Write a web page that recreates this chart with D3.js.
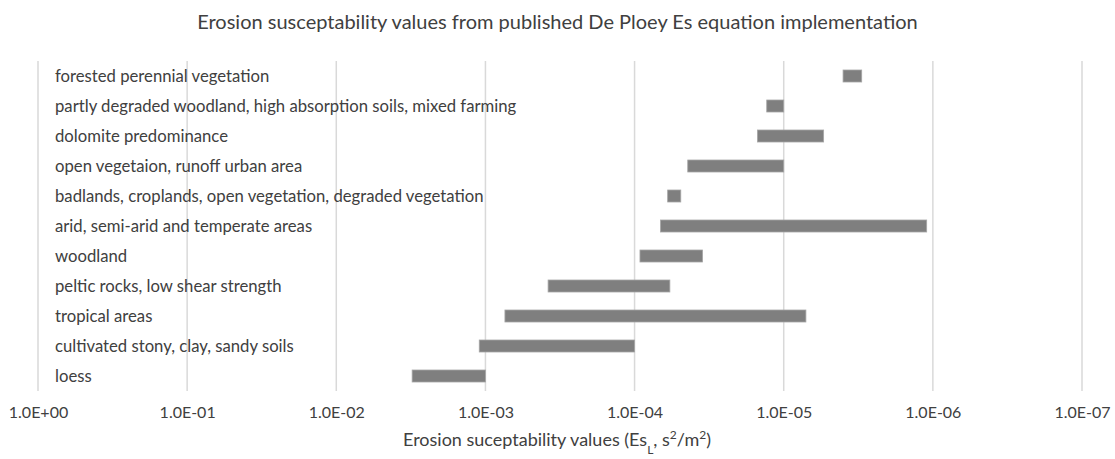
<!DOCTYPE html>
<html>
<head>
<meta charset="utf-8">
<script src="https://cdn.jsdelivr.net/npm/d3@7"></script>
<style>
  body { margin: 0; background: #fff; }
  svg text { font-family: Lato, "Open Sans", sans-serif; fill: #404040; }
</style>
</head>
<body>
<div id="chart"></div>
<script>
// categories, top to bottom
var categories = [
    "forested perennial vegetation",
    "partly degraded woodland, high absorption soils, mixed farming",
    "dolomite predominance",
    "open vegetaion, runoff urban area",
    "badlands, croplands, open vegetation, degraded vegetation",
    "arid, semi-arid and temperate areas",
    "woodland",
    "peltic rocks, low shear strength",
    "tropical areas",
    "cultivated stony, clay, sandy soils",
    "loess"
];
// upper end of each range (left side of bar, axis is reversed)
var esMax = [4.0e-6, 1.3e-5, 1.5e-5, 4.4e-5, 6.0e-5, 6.7e-5, 9.2e-5, 3.8e-4, 7.4e-4, 1.1e-3, 3.1e-3];
// lower end of each range (right side of bar)
var esMin = [3.0e-6, 1.0e-5, 5.4e-6, 1.0e-5, 4.9e-5, 1.1e-6, 3.5e-5, 5.8e-5, 7.1e-6, 1.0e-4, 1.0e-3];
var tickValues = [1, 1e-1, 1e-2, 1e-3, 1e-4, 1e-5, 1e-6, 1e-7];
var tickLabels = ["1.0E+00", "1.0E-01", "1.0E-02", "1.0E-03", "1.0E-04", "1.0E-05", "1.0E-06", "1.0E-07"];

var data = categories.map(function (c, i) {
    return { name: c, hi: esMax[i], lo: esMin[i] };
});

var width = 1115, height = 459;
var margin = { top: 61, right: 33, bottom: 68, left: 38 };

var svg = d3.select("#chart")
    .append("svg")
    .attr("width", width)
    .attr("height", height);

var x = d3.scaleLog()
    .domain([1, 1e-7])
    .range([margin.left, width - margin.right]);

var y = d3.scaleBand()
    .domain(categories)
    .range([margin.top, height - margin.bottom]);

// gridlines
svg.append("g")
    .selectAll("line")
    .data(tickValues)
    .enter()
    .append("line")
    .attr("x1", (d) => x(d))
    .attr("x2", (d) => x(d))
    .attr("y1", margin.top)
    .attr("y2", height - margin.bottom)
    .attr("stroke", "#d9d9d9")
    .attr("stroke-width", 1.5);

// x axis labels
var xAxis = svg.append("g")
    .attr("transform", "translate(0," + (height - margin.bottom) + ")")
    .call(d3.axisBottom(x)
        .tickValues(tickValues)
        .tickFormat((d, i) => tickLabels[i])
        .tickSize(0)
        .tickPadding(16));
xAxis.select(".domain").remove();
xAxis.selectAll("text")
    .style("font-size", "16px")
    .style("font-family", "Lato, sans-serif")
    .attr("fill", "#404040");

// bars
var barH = 12;
svg.append("g")
    .selectAll("rect")
    .data(data)
    .enter()
    .append("rect")
    .attr("x", (d) => x(d.hi))
    .attr("width", (d) => x(d.lo) - x(d.hi))
    .attr("y", (d) => y(d.name) + y.bandwidth() / 2 - barH / 2)
    .attr("height", barH)
    .attr("fill", "#7f7f7f")
    .attr("stroke", "#a6a6a6")
    .attr("stroke-width", 0.8);

// category labels
svg.append("g")
    .selectAll("text")
    .data(data)
    .enter()
    .append("text")
    .attr("x", x(1) + 17)
    .attr("y", (d) => y(d.name) + y.bandwidth() / 2)
    .attr("dy", "0.35em")
    .style("font-size", "16.7px")
    .text((d) => d.name);

// title
svg.append("text")
    .attr("x", width / 2)
    .attr("y", 29)
    .attr("text-anchor", "middle")
    .style("font-size", "20px")
    .text("Erosion susceptability values from published De Ploey Es equation implementation");

// x axis title
var xt = svg.append("text")
    .attr("x", 557)
    .attr("y", 446)
    .attr("text-anchor", "middle")
    .style("font-size", "18px");
xt.append("tspan").text("Erosion suceptability values (Es");
xt.append("tspan").attr("baseline-shift", "sub").style("font-size", "12px").text("L");
xt.append("tspan").text(", s");
xt.append("tspan").attr("baseline-shift", "super").style("font-size", "12px").text("2");
xt.append("tspan").text("/m");
xt.append("tspan").attr("baseline-shift", "super").style("font-size", "12px").text("2");
xt.append("tspan").text(")");
</script>
</body>
</html>
